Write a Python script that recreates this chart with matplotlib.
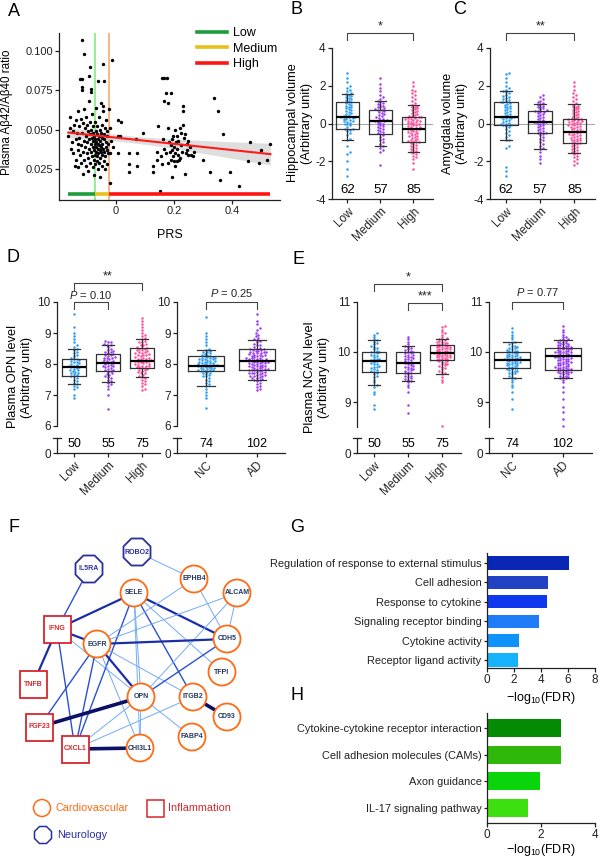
import numpy as np
import matplotlib
matplotlib.use('Agg')
import matplotlib.pyplot as plt
from matplotlib.patches import Circle, Rectangle, RegularPolygon
from matplotlib.lines import Line2D

plt.rcParams['font.family'] = ['Liberation Sans', 'DejaVu Sans']
plt.rcParams['axes.unicode_minus'] = False
plt.rcParams['mathtext.fontset'] = 'custom'
plt.rcParams['mathtext.rm'] = 'Liberation Sans'
plt.rcParams['mathtext.it'] = 'Liberation Sans:italic'

# ---------------- data ----------------
# panel A: PRS vs plasma Abeta42/40
prs = [-0.165, -0.16, -0.158, -0.155, -0.153, -0.15, -0.148, -0.145, -0.143, -0.14, -0.14, -0.138, -0.135, -0.133,
       -0.132, -0.13, -0.13, -0.128, -0.127, -0.125, -0.124, -0.122, -0.12, -0.12, -0.118, -0.118, -0.118, -0.117,
       -0.116, -0.115, -0.114, -0.113, -0.112, -0.11, -0.11, -0.109, -0.108, -0.107, -0.105, -0.104, -0.103, -0.102,
       -0.1, -0.1, -0.098, -0.097, -0.096, -0.095, -0.094, -0.093, -0.092, -0.091, -0.09, -0.09, -0.089, -0.088,
       -0.087, -0.086, -0.085, -0.085, -0.084, -0.083, -0.082, -0.081, -0.08, -0.08, -0.079, -0.078, -0.077, -0.076,
       -0.075, -0.075, -0.074, -0.073, -0.072, -0.072, -0.071, -0.07, -0.07, -0.069, -0.068, -0.068, -0.067, -0.066,
       -0.066, -0.065, -0.064, -0.063, -0.063, -0.062, -0.061, -0.061, -0.06, -0.06, -0.059, -0.058, -0.057, -0.057,
       -0.056, -0.055, -0.054, -0.053, -0.052, -0.052, -0.051, -0.05, -0.05, -0.049, -0.048, -0.047, -0.046, -0.045,
       -0.044, -0.044, -0.043, -0.042, -0.041, -0.04, -0.04, -0.039, -0.038, -0.037, -0.036, -0.035, -0.034, -0.033,
       -0.032, -0.031, -0.03, -0.029, -0.028, -0.024, -0.022, -0.021, -0.02, -0.019, -0.015, -0.012, 0.008, 0.008,
       0.008, 0.016, 0.012, 0.046, 0.046, 0.046, 0.069, 0.071, 0.072, 0.094,
       0.126, 0.129, 0.14, 0.14, 0.146, 0.152, 0.155, 0.158, 0.158, 0.163, 0.166, 0.166, 0.166, 0.171, 0.172, 0.175,
       0.178, 0.18, 0.18, 0.182, 0.185, 0.188, 0.189, 0.19, 0.192, 0.192, 0.192, 0.195, 0.197, 0.2, 0.2, 0.203,
       0.203, 0.205, 0.207, 0.209, 0.209, 0.21, 0.213, 0.215, 0.218, 0.221, 0.221, 0.223, 0.225, 0.228, 0.23, 0.232,
       0.232, 0.235, 0.238, 0.238, 0.24, 0.244, 0.246, 0.249, 0.249, 0.255, 0.26, 0.266, 0.27,
       0.3, 0.324, 0.338, 0.351, 0.359, 0.37, 0.393, 0.425, 0.456, 0.462, 0.494, 0.502, 0.533, 0.52]
ratio = [0.046, 0.051, 0.058, 0.038, 0.042, 0.035, 0.049, 0.053, 0.027, 0.044, 0.056, 0.031, 0.048, 0.041,
         0.062, 0.037, 0.026, 0.052, 0.045, 0.034, 0.082, 0.057, 0.040, 0.029, 0.107, 0.077, 0.075, 0.082,
         0.048, 0.036, 0.054, 0.022, 0.043, 0.098, 0.063, 0.031, 0.051, 0.039, 0.046, 0.027, 0.058, 0.035,
         0.042, 0.053, 0.049, 0.032, 0.024, 0.044, 0.068, 0.038, 0.084, 0.047, 0.090, 0.055, 0.029, 0.041,
         0.036, 0.050, 0.076, 0.074, 0.033, 0.045, 0.060, 0.039, 0.026, 0.048, 0.043, 0.052, 0.031, 0.037,
         0.046, 0.021, 0.041, 0.055, 0.034, 0.044, 0.028, 0.049, 0.039, 0.036, 0.064, 0.042, 0.030, 0.047,
         0.033, 0.052, 0.038, 0.025, 0.044, 0.041, 0.081, 0.035, 0.058, 0.046, 0.029, 0.040, 0.037, 0.050,
         0.032, 0.043, 0.020, 0.048, 0.036, 0.067, 0.039, 0.027, 0.045, 0.053, 0.034, 0.041, 0.038, 0.062,
         0.092, 0.065, 0.030, 0.047, 0.044, 0.081, 0.036, 0.025, 0.051, 0.033, 0.042, 0.039, 0.056, 0.046,
         0.028, 0.037, 0.049, 0.041, 0.035, 0.063, 0.051, 0.016, 0.035, 0.043, 0.094, 0.039, 0.056, 0.046,
         0.035, 0.055, 0.046, 0.035, 0.028, 0.023, 0.044, 0.035, 0.027, 0.048,
         0.027, 0.023, 0.031, 0.036, 0.052, 0.011, 0.033, 0.083, 0.028, 0.044, 0.068, 0.038, 0.083, 0.073, 0.035, 0.083,
         0.067, 0.051, 0.029, 0.042, 0.036, 0.031, 0.073, 0.040, 0.044, 0.037, 0.020, 0.033, 0.046, 0.039, 0.030, 0.050,
         0.027, 0.035, 0.042, 0.046, 0.030, 0.038, 0.034, 0.043, 0.031, 0.051, 0.032, 0.048, 0.040, 0.036, 0.053, 0.065,
         0.062, 0.045, 0.047, 0.022, 0.035, 0.037, 0.041, 0.043, 0.034, 0.039, 0.034, 0.033, 0.036,
         0.031, 0.023, 0.070, 0.062, 0.018, 0.047, 0.023, 0.014, 0.030, 0.042, 0.029, 0.037, 0.041, 0.031]
prs_cut_low = -0.072
prs_cut_high = -0.024
group_names = ['Low', 'Medium', 'High']

# panel B: hippocampal volume by PRS group
hip_low = [-2.8, -2.4, -2.0, -1.6, -1.5, -1.2, -0.9, -0.8, -0.6, -0.5, -0.4, -0.35, -0.3, -0.28, -0.2, -0.1, -0.05,
           0.0, 0.05, 0.1, 0.12, 0.15, 0.2, 0.22, 0.25, 0.3, 0.32, 0.34, 0.35, 0.36, 0.4, 0.45, 0.5, 0.55, 0.6, 0.65,
           0.7, 0.75, 0.8, 0.85, 0.9, 0.95, 1.0, 1.05, 1.1, 1.15, 1.2, 1.25, 1.3, 1.35, 1.4, 1.45, 1.5, 1.55, 1.6,
           1.7, 1.8, 1.9, 2.0, 2.2, 2.4, 2.7]
hip_med = [-2.2, -1.5, -1.4, -1.3, -1.2, -1.1, -1.0, -0.9, -0.8, -0.7, -0.6, -0.55, -0.5, -0.45, -0.4, -0.3, -0.25,
           -0.2, -0.15, -0.1, -0.05, 0.0, 0.05, 0.1, 0.12, 0.15, 0.18, 0.2, 0.25, 0.3, 0.35, 0.4, 0.45, 0.5, 0.55,
           0.6, 0.65, 0.7, 0.72, 0.75, 0.8, 0.85, 0.9, 0.95, 1.0, 1.05, 1.1, 1.15, 1.2, 1.3, 1.4, 1.5, 1.7, 1.9,
           2.1, 2.4, -0.35]
hip_high = [-2.4, -2.1, -1.9, -1.8, -1.7, -1.6, -1.55, -1.5, -1.45, -1.4, -1.35, -1.3, -1.25, -1.2, -1.15, -1.1,
            -1.05, -1.0, -0.97, -0.95, -0.9, -0.85, -0.8, -0.75, -0.7, -0.68, -0.65, -0.6, -0.55, -0.5, -0.48, -0.45,
            -0.4, -0.38, -0.35, -0.3, -0.28, -0.27, -0.25, -0.2, -0.18, -0.15, -0.1, -0.08, -0.05, 0.0, 0.02, 0.05,
            0.08, 0.1, 0.12, 0.15, 0.18, 0.2, 0.22, 0.25, 0.28, 0.3, 0.32, 0.35, 0.38, 0.4, 0.45, 0.5, 0.55, 0.6,
            0.65, 0.7, 0.75, 0.8, 0.85, 0.9, 0.95, 1.0, 1.1, 1.2, 1.3, 1.4, 1.5, 1.6, 1.7, 1.8, 2.0, 2.2, -1.0]
# box: (whisker low, q1, median, q3, whisker high)
hip_box = [(-0.9, -0.29, 0.35, 1.13, 1.55), (-1.2, -0.53, 0.15, 0.70, 1.2), (-1.49, -0.97, -0.27, 0.36, 0.98)]
hip_n = [62, 57, 85]

# panel C: amygdala volume by PRS group
amy_low = [-2.8, -2.5, -2.3, -1.3, -1.2, -0.9, -0.85, -0.7, -0.6, -0.5, -0.4, -0.3, -0.2, -0.15, -0.1, -0.08,
           -0.05, 0.0, 0.05, 0.1, 0.15, 0.2, 0.25, 0.28, 0.3, 0.33, 0.35, 0.37, 0.4, 0.45, 0.5, 0.55, 0.6, 0.65,
           0.7, 0.75, 0.8, 0.85, 0.9, 0.95, 1.0, 1.05, 1.1, 1.12, 1.15, 1.2, 1.25, 1.3, 1.35, 1.4, 1.45, 1.5, 1.6,
           1.65, 1.7, 1.8, 1.9, 2.0, 2.2, 2.4, 2.6, 2.7]
amy_med = [-2.1, -1.9, -1.7, -1.5, -1.35, -1.3, -1.2, -1.1, -1.0, -0.9, -0.8, -0.7, -0.6, -0.5, -0.48, -0.45,
           -0.4, -0.35, -0.3, -0.25, -0.2, -0.15, -0.1, -0.05, 0.0, 0.03, 0.06, 0.08, 0.1, 0.15, 0.2, 0.25, 0.3,
           0.35, 0.4, 0.45, 0.5, 0.55, 0.6, 0.62, 0.65, 0.68, 0.7, 0.75, 0.8, 0.85, 0.9, 0.95, 1.0, 1.05, 1.1,
           1.15, 1.2, 1.3, 1.4, 1.5, -0.55]
amy_high = [-2.2, -2.1, -2.0, -1.9, -1.8, -1.7, -1.6, -1.57, -1.5, -1.45, -1.4, -1.35, -1.3, -1.25, -1.2, -1.15,
            -1.1, -1.05, -1.04, -1.0, -0.95, -0.9, -0.85, -0.8, -0.78, -0.75, -0.7, -0.65, -0.6, -0.58, -0.55, -0.5,
            -0.47, -0.45, -0.43, -0.4, -0.38, -0.35, -0.3, -0.28, -0.25, -0.2, -0.18, -0.15, -0.1, -0.08, -0.05,
            0.0, 0.02, 0.05, 0.08, 0.1, 0.12, 0.15, 0.18, 0.2, 0.22, 0.25, 0.28, 0.3, 0.35, 0.4, 0.45, 0.5, 0.55,
            0.6, 0.65, 0.7, 0.75, 0.8, 0.85, 0.9, 0.95, 1.0, 1.1, 1.2, 1.3, 1.4, 1.5, 1.6, 1.8, 2.0, 2.2, -0.9, -0.6]
amy_box = [(-0.87, -0.09, 0.36, 1.15, 1.7), (-1.33, -0.48, 0.06, 0.66, 1.03), (-1.57, -1.04, -0.43, 0.23, 1.01)]
amy_n = [62, 57, 85]

# panel D: plasma OPN
opn_low = [6.9, 7.0, 7.2, 7.25, 7.3, 7.35, 7.4, 7.45, 7.5, 7.55, 7.6, 7.62, 7.65, 7.7, 7.72, 7.75, 7.8, 7.82,
           7.85, 7.87, 7.89, 7.9, 7.92, 7.95, 7.98, 8.0, 8.02, 8.05, 8.08, 8.1, 8.12, 8.15, 8.17, 8.2, 8.25, 8.3,
           8.35, 8.4, 8.45, 8.5, 8.55, 8.6, 8.7, 8.8, 8.9, 9.0, 9.2, 9.6, 7.68, 7.78]
opn_med = [6.55, 7.0, 7.2, 7.3, 7.35, 7.4, 7.45, 7.5, 7.55, 7.6, 7.65, 7.7, 7.75, 7.78, 7.8, 7.82, 7.85, 7.88,
           7.9, 7.92, 7.95, 7.98, 8.0, 8.02, 8.03, 8.05, 8.08, 8.1, 8.12, 8.15, 8.18, 8.2, 8.22, 8.25, 8.28, 8.3,
           8.32, 8.35, 8.38, 8.4, 8.45, 8.5, 8.55, 8.6, 8.62, 8.65, 8.7, 8.75, 8.72, 7.58, 7.68, 7.95, 8.1, 8.2, 8.42]
opn_high = [7.15, 7.2, 7.3, 7.35, 7.4, 7.45, 7.5, 7.55, 7.58, 7.6, 7.65, 7.7, 7.72, 7.75, 7.78, 7.8, 7.82, 7.85,
            7.87, 7.88, 7.9, 7.92, 7.95, 7.97, 8.0, 8.02, 8.05, 8.07, 8.1, 8.11, 8.12, 8.15, 8.17, 8.2, 8.22, 8.25,
            8.28, 8.3, 8.32, 8.35, 8.38, 8.4, 8.42, 8.45, 8.48, 8.5, 8.52, 8.53, 8.55, 8.6, 8.65, 8.7, 8.75, 8.8,
            8.85, 8.9, 8.95, 9.0, 9.1, 9.2, 9.3, 9.4, 9.5, 7.9, 8.0, 8.05, 8.1, 8.15, 8.3, 8.35, 8.6, 8.7, 7.95,
            8.2, 8.45]
opn_nc = [6.58, 6.9, 7.0, 7.1, 7.2, 7.3, 7.35, 7.4, 7.45, 7.5, 7.55, 7.6, 7.65, 7.7, 7.72, 7.75, 7.78, 7.8, 7.82,
          7.85, 7.87, 7.9, 7.92, 7.95, 7.97, 8.0, 8.02, 8.05, 8.07, 8.1, 8.12, 8.15, 8.17, 8.2, 8.22, 8.25, 8.28,
          8.3, 8.35, 8.4, 8.45, 8.5, 8.6, 8.7, 8.8, 8.9, 9.0, 9.52, 7.88, 7.93, 7.98, 8.03, 8.08, 8.13, 8.18, 7.68,
          7.62, 7.83, 8.26, 8.33, 8.38, 8.43, 7.76, 7.8, 7.86, 7.94, 8.0, 8.1, 8.15, 8.2, 7.9, 7.96, 8.04, 8.24]
opn_ad = [7.15, 7.2, 7.25, 7.3, 7.35, 7.4, 7.45, 7.5, 7.52, 7.55, 7.58, 7.6, 7.62, 7.65, 7.68, 7.7, 7.72, 7.75,
          7.78, 7.8, 7.81, 7.83, 7.85, 7.87, 7.9, 7.92, 7.95, 7.97, 8.0, 8.02, 8.04, 8.06, 8.08, 8.1, 8.12, 8.14,
          8.16, 8.18, 8.2, 8.22, 8.25, 8.28, 8.3, 8.32, 8.35, 8.38, 8.4, 8.42, 8.45, 8.48, 8.5, 8.52, 8.55, 8.6,
          8.65, 8.7, 8.75, 8.78, 8.8, 8.85, 8.9, 8.95, 9.0, 9.1, 9.15, 9.3, 9.4, 9.6, 7.5, 7.6, 7.7, 7.75, 7.8,
          7.85, 7.9, 7.95, 8.0, 8.05, 8.1, 8.15, 8.2, 8.25, 8.3, 8.35, 8.4, 8.45, 8.5, 7.65, 7.88, 7.93, 8.03,
          8.13, 8.27, 8.43, 7.55, 7.82, 8.07, 8.17, 8.37, 8.6, 7.72, 7.98]
opn_prs_box = [(7.36, 7.60, 7.89, 8.16, 8.49), (7.41, 7.76, 8.03, 8.32, 8.60), (7.58, 7.87, 8.11, 8.53, 8.81)]
opn_dx_box = [(7.29, 7.78, 7.95, 8.26, 8.44), (7.50, 7.81, 8.10, 8.49, 8.78)]
prs_n_plasma = [50, 55, 75]
dx_names = ['NC', 'AD']
dx_n = [74, 102]

# panel E: plasma NCAN
ncan_low = [8.87, 8.95, 9.15, 9.2, 9.3, 9.34, 9.4, 9.45, 9.5, 9.55, 9.58, 9.6, 9.62, 9.65, 9.68, 9.7, 9.72, 9.75,
            9.78, 9.8, 9.81, 9.83, 9.85, 9.87, 9.9, 9.92, 9.95, 9.97, 9.99, 10.0, 10.02, 10.05, 10.08, 10.1, 10.12,
            10.15, 10.18, 10.2, 10.23, 10.25, 10.3, 10.35, 10.38, 9.64, 9.76, 9.86, 9.93, 9.52, 9.7, 10.0]
ncan_med = [8.78, 8.95, 9.2, 9.3, 9.4, 9.42, 9.45, 9.48, 9.5, 9.52, 9.55, 9.57, 9.6, 9.62, 9.65, 9.68, 9.7, 9.72,
            9.75, 9.77, 9.79, 9.8, 9.82, 9.85, 9.87, 9.9, 9.92, 9.95, 9.97, 10.0, 10.02, 10.05, 10.08, 10.1, 10.12,
            10.15, 10.2, 10.25, 10.3, 9.58, 9.66, 9.74, 9.84, 9.9, 9.98, 9.46, 9.53, 9.63, 9.7, 9.78, 9.88, 9.94,
            10.0, 10.04, 9.35]
ncan_high = [8.52, 9.4, 9.45, 9.5, 9.55, 9.6, 9.65, 9.7, 9.72, 9.75, 9.78, 9.8, 9.82, 9.83, 9.85, 9.87, 9.88, 9.9,
             9.92, 9.93, 9.95, 9.96, 9.97, 9.98, 10.0, 10.02, 10.03, 10.05, 10.07, 10.08, 10.1, 10.12, 10.14, 10.15,
             10.17, 10.2, 10.22, 10.25, 10.27, 10.3, 10.35, 10.4, 10.45, 10.5, 10.52, 9.84, 9.86, 9.89, 9.91, 9.94,
             9.99, 10.01, 10.04, 10.06, 10.09, 10.11, 10.13, 10.16, 10.18, 10.24, 9.58, 9.68, 9.76, 9.81, 9.9,
             9.95, 10.0, 10.05, 10.1, 10.2, 9.62, 9.73, 9.97, 10.28, 10.38]
ncan_nc = [8.87, 9.05, 9.2, 9.3, 9.35, 9.4, 9.45, 9.48, 9.5, 9.55, 9.58, 9.6, 9.62, 9.65, 9.67, 9.7, 9.72, 9.74,
           9.76, 9.78, 9.8, 9.82, 9.84, 9.85, 9.86, 9.88, 9.9, 9.92, 9.94, 9.96, 9.98, 10.0, 10.02, 10.04, 10.06,
           10.08, 10.1, 10.12, 10.15, 10.18, 10.2, 10.25, 10.3, 10.35, 10.4, 10.48, 9.64, 9.68, 9.73, 9.77, 9.81,
           9.83, 9.87, 9.89, 9.91, 9.95, 9.99, 10.01, 9.52, 9.57, 9.62, 9.7, 9.75, 9.8, 9.85, 9.9, 9.93, 9.97,
           10.03, 10.07, 9.66, 9.79, 9.87, 10.11]
ncan_ad = [8.52, 8.65, 8.8, 8.9, 9.05, 9.2, 9.3, 9.4, 9.45, 9.48, 9.5, 9.52, 9.55, 9.58, 9.6, 9.62, 9.64, 9.66,
           9.68, 9.7, 9.72, 9.74, 9.76, 9.78, 9.8, 9.82, 9.84, 9.86, 9.88, 9.9, 9.91, 9.92, 9.94, 9.96, 9.98, 10.0,
           10.02, 10.04, 10.06, 10.07, 10.08, 10.1, 10.12, 10.14, 10.16, 10.18, 10.2, 10.22, 10.24, 10.26, 10.3,
           10.35, 10.4, 10.45, 10.52, 9.5, 9.55, 9.6, 9.65, 9.7, 9.75, 9.8, 9.85, 9.9, 9.95, 10.0, 10.05, 10.1,
           10.15, 10.2, 9.57, 9.63, 9.67, 9.73, 9.79, 9.83, 9.87, 9.93, 9.97, 10.03, 10.09, 10.13, 10.25, 9.53,
           9.61, 9.69, 9.77, 9.89, 9.99, 10.01, 10.11, 10.17, 10.3, 9.47, 9.59, 9.71, 9.81, 9.95, 10.05, 9.66,
           9.88, 10.0]
ncan_prs_box = [(9.34, 9.60, 9.81, 9.99, 10.23), (9.42, 9.57, 9.79, 10.0, 10.12), (9.55, 9.83, 9.97, 10.14, 10.26)]
ncan_dx_box = [(9.48, 9.67, 9.84, 10.0, 10.19), (9.48, 9.64, 9.91, 10.07, 10.24)]

# panel F: network
node_kind = {'ROBO2': 'neuro', 'IL5RA': 'neuro', 'SELE': 'cardio', 'EPHB4': 'cardio', 'ALCAM': 'cardio',
             'IFNG': 'inflam', 'EGFR': 'cardio', 'CDH5': 'cardio', 'TFPI': 'cardio', 'TNFB': 'inflam',
             'OPN': 'cardio', 'ITGB2': 'cardio', 'CD93': 'cardio', 'FGF23': 'inflam', 'CXCL1': 'inflam',
             'CHI3L1': 'cardio', 'FABP4': 'cardio'}
# layout of the drawing (x right, y down)
node_xy = {'ROBO2': (137, 552), 'IL5RA': (89, 569), 'SELE': (134, 593), 'EPHB4': (194, 579), 'ALCAM': (237, 593),
           'IFNG': (57, 629), 'EGFR': (97, 644), 'CDH5': (227, 639), 'TFPI': (222, 672), 'TNFB': (33, 684),
           'OPN': (141, 697), 'ITGB2': (193, 697), 'CD93': (227, 717), 'FGF23': (39, 727), 'CXCL1': (75, 749),
           'CHI3L1': (140, 748), 'FABP4': (192, 737)}
edges = [('ROBO2', 'EPHB4', 1), ('IL5RA', 'IFNG', 2), ('IFNG', 'SELE', 3), ('IFNG', 'EGFR', 3),
         ('IFNG', 'TNFB', 3), ('IFNG', 'CXCL1', 2), ('IFNG', 'OPN', 1), ('SELE', 'CDH5', 3), ('SELE', 'ITGB2', 2),
         ('SELE', 'TFPI', 1), ('SELE', 'OPN', 1), ('SELE', 'CXCL1', 2), ('SELE', 'CHI3L1', 1), ('EPHB4', 'EGFR', 1),
         ('EPHB4', 'CDH5', 1), ('ALCAM', 'EGFR', 1), ('ALCAM', 'OPN', 1), ('ALCAM', 'CDH5', 1), ('EGFR', 'CDH5', 3),
         ('EGFR', 'OPN', 3), ('EGFR', 'ITGB2', 1), ('EGFR', 'FGF23', 2), ('EGFR', 'CXCL1', 2), ('EGFR', 'CHI3L1', 1),
         ('CDH5', 'OPN', 2), ('OPN', 'FGF23', 4), ('OPN', 'CXCL1', 1), ('OPN', 'FABP4', 1), ('OPN', 'CHI3L1', 1),
         ('ITGB2', 'CD93', 4), ('ITGB2', 'CXCL1', 1), ('CXCL1', 'CHI3L1', 4)]

# panel G: GO terms
go_terms = ['Regulation of response to external stimulus', 'Cell adhesion', 'Response to cytokine',
            'Signaling receptor binding', 'Cytokine activity', 'Receptor ligand activity']
go_fdr = [6.07, 4.5, 4.45, 3.85, 2.35, 2.3]
# panel H: KEGG pathways
kegg_terms = ['Cytokine-cytokine receptor interaction', 'Cell adhesion molecules (CAMs)', 'Axon guidance',
              'IL-17 signaling pathway']
kegg_fdr = [2.74, 2.74, 1.96, 1.5]

# ---------------- styles ----------------
W, H = 600, 860
grp_cols = ['#2a9df4', '#9b3cf0', '#ff4f9d']
dx_cols = ['#2a9df4', '#9b3cf0']
go_cols = ['#0a26b4', '#2141c4', '#0f38ee', '#1f7cf8', '#0e93fb', '#16b2fb']
kegg_cols = ['#048a04', '#2fb80a', '#0ad40a', '#3ce010']
edge_style = {1: ('#72abf6', 0.7), 2: ('#2b4fd6', 1.0), 3: ('#1a2ea6', 1.6), 4: ('#0b1068', 2.6)}
LC = '#222222'

fig = plt.figure(figsize=(6, 8.6), dpi=100)


def rect(l, t, r, b):
    return [l / W, 1 - b / H, (r - l) / W, (b - t) / H]


def ftext(x, y, s, **kw):
    fig.text(x / W, 1 - y / H, s, **kw)


def style_ax(ax, fs=8.5):
    for s in ['top', 'right']:
        ax.spines[s].set_visible(False)
    for s in ['left', 'bottom']:
        ax.spines[s].set_color(LC)
        ax.spines[s].set_linewidth(0.9)
    ax.tick_params(colors=LC, width=0.9, length=3, labelsize=fs, pad=1.5)


def swarm(vals, ppu_y, max_off, dot=2.4):
    y = np.asarray(vals, float) * ppu_y
    order = np.argsort(y)
    step = dot * 0.55
    cands = [0.0]
    k = 1
    while k * step <= max_off:
        cands += [k * step, -k * step]
        k += 1
    cands = np.array(cands)
    px, py = [], []
    off = np.zeros(len(y))
    for i in order:
        c = 0.0
        if px:
            ax_ = np.array(px)
            ay_ = np.array(py)
            near = np.abs(ay_ - y[i]) < dot
            if near.any():
                d = np.sqrt((cands[:, None] - ax_[near][None, :]) ** 2
                            + (y[i] - ay_[near])[None, :] ** 2).min(axis=1)
                ok = np.where(d >= dot)[0]
                c = cands[ok[0]] if len(ok) else cands[np.argmax(d)]
        off[i] = c
        px.append(c)
        py.append(y[i])
    return off


def strips(ax, groups, boxes, cols, width=0.7):
    pos = ax.get_position()
    x0, x1 = ax.get_xlim()
    y0, y1 = ax.get_ylim()
    ppu_x = pos.width * W / (x1 - x0)
    ppu_y = pos.height * H / (y1 - y0)
    for i, (vals, col) in enumerate(zip(groups, cols)):
        off = swarm(vals, ppu_y, 0.45 * width * ppu_x)
        ax.scatter(i + off / ppu_x, vals, s=3.2, color=col, lw=0, zorder=2, clip_on=False)
    stats = [dict(whislo=b[0], q1=b[1], med=b[2], q3=b[3], whishi=b[4], fliers=[]) for b in boxes]
    lp = dict(color='#333333', lw=0.9)
    ax.bxp(stats, positions=range(len(boxes)), widths=width, capwidths=width * 0.5, showfliers=False,
           boxprops=lp, whiskerprops=lp, capprops=lp, medianprops=dict(color='black', lw=1.6),
           manage_ticks=False, zorder=3)


def bracket(ax, x0, x1, y, drop, text, ty, fs=9):
    ax.plot([x0, x0, x1, x1], [y - drop, y, y, y - drop], color='#444444', lw=0.8, clip_on=False)
    ax.text((x0 + x1) / 2, ty, text, ha='center', va='center', fontsize=fs, color=LC)


# ---------------- panel A ----------------
axA = fig.add_axes(rect(59, 33, 280, 200))
style_ax(axA, fs=8)
axA.set_xlim(-0.197, 0.566)
axA.set_ylim(0.0053, 0.1114)
x = np.array(prs)
y = np.array(ratio)
coef = np.polyfit(x, y, 1)
xs = np.linspace(x.min(), x.max(), 100)
fit = np.polyval(coef, xs)
resid = y - np.polyval(coef, x)
s_err = np.sqrt(np.sum(resid ** 2) / (len(x) - 2))
se = s_err * np.sqrt(1 / len(x) + (xs - x.mean()) ** 2 / np.sum((x - x.mean()) ** 2))
axA.axvline(prs_cut_low, color='#7cf07c', lw=1.2, zorder=1)
axA.axvline(prs_cut_high, color='#f7a96e', lw=1.2, zorder=1)
axA.scatter(x, y, s=6, color='black', lw=0, zorder=3)
axA.fill_between(xs, fit - 1.97 * se, fit + 1.97 * se, color='#c4c4c4', alpha=0.55, lw=0, zorder=2)
axA.plot(xs, fit, color='#ff1a1a', lw=1.5, zorder=4)
seg_y = 0.009
seg_cols = ['#1d9e3e', '#e6c21a', '#ff1414']
bounds = [x.min(), prs_cut_low, prs_cut_high, x.max()]
for i in range(3):
    axA.plot([bounds[i], bounds[i + 1]], [seg_y, seg_y], color=seg_cols[i], lw=2.6, solid_capstyle='butt',
             zorder=4)
axA.set_xticks([0, 0.2, 0.4])
axA.set_xticklabels(['0', '0.2', '0.4'])
axA.set_yticks([0.025, 0.05, 0.075, 0.1])
axA.set_yticklabels(['0.025', '0.050', '0.075', '0.100'])
handles = [Line2D([], [], color=c, lw=2.6) for c in seg_cols]
axA.legend(handles, group_names, loc='upper left', bbox_to_anchor=(197 / W, 1 - 27 / H),
           bbox_transform=fig.transFigure, frameon=False, fontsize=9, handlelength=2.4,
           handletextpad=0.5, labelspacing=0.3, borderpad=0, borderaxespad=0)
ftext(7, 112, 'Plasma A\u03b242/A\u03b240 ratio', rotation=90, ha='center', va='center', fontsize=8.4)
ftext(170, 235, 'PRS', ha='center', va='center', fontsize=9)


# ---------------- panels B, C ----------------
def vol_panel(l, r, groups, boxes, ns, stars, ylab, lab_x):
    ax = fig.add_axes(rect(l, 48, r, 199))
    style_ax(ax)
    ax.set_xlim(-0.47, 2.6)
    ax.set_ylim(-4, 4)
    ax.axhline(0, color='#aaaaaa', lw=0.8, zorder=1)
    strips(ax, groups, boxes, grp_cols)
    ax.set_yticks([-4, -2, 0, 2, 4])
    ax.set_xticks(range(3))
    ax.set_xticklabels(group_names, rotation=45, ha='right', rotation_mode='anchor', fontsize=8.5)
    for i, n in enumerate(ns):
        ax.text(i, -3.5, str(n), ha='center', va='center', fontsize=9.5)
    bracket(ax, 0, 2, 4.8, 0.4, stars, 5.15)
    ftext(lab_x, 123, ylab, rotation=90, ha='center', va='center', fontsize=9.2, multialignment='center')
    return ax


vol_panel(332, 433, [hip_low, hip_med, hip_high], hip_box, hip_n, '*',
          'Hippocampal volume\n(Arbitrary unit)', 300)
vol_panel(490, 595, [amy_low, amy_med, amy_high], amy_box, amy_n, '**',
          'Amygdala volume\n(Arbitrary unit)', 455)


# ---------------- panels D, E ----------------
def split_panel(l, r, bot, xlim, ylim, yticks, cats, groups, boxes, cols, ns):
    axt = fig.add_axes(rect(l, 302, r, bot))
    style_ax(axt)
    axt.spines['bottom'].set_visible(False)
    axt.set_xlim(*xlim)
    axt.set_ylim(*ylim)
    axt.set_xticks([])
    axt.set_yticks(yticks)
    strips(axt, groups, boxes, cols)
    axb = fig.add_axes(rect(l, 438, r, 453))
    style_ax(axb)
    axb.set_xlim(*xlim)
    axb.set_ylim(0, 1)
    axb.set_yticks([0])
    axb.set_xticks(range(len(cats)))
    axb.set_xticklabels(cats, rotation=45, ha='right', rotation_mode='anchor', fontsize=8.5)
    axb.plot([-0.035, 0.035], [1, 1], transform=axb.transAxes, color=LC, lw=0.9, clip_on=False)
    for i, n in enumerate(ns):
        axb.text(i, 0.6, str(n), ha='center', va='center', fontsize=9)
    return axt


axD1 = split_panel(57, 160, 426, (-0.5, 2.53), (6, 10), [6, 7, 8, 9, 10], group_names,
                   [opn_low, opn_med, opn_high], opn_prs_box, grp_cols, prs_n_plasma)
bracket(axD1, 0, 2, 10.61, 0.22, '**', 10.83)
bracket(axD1, 0, 1, 10.0, 0.22, r'$\it{P}$ = 0.10', 10.21, fs=8)
axD2 = split_panel(177, 285, 426, (-0.57, 1.55), (6, 10), [6, 7, 8, 9, 10], dx_names,
                   [opn_nc, opn_ad], opn_dx_box, dx_cols, dx_n)
bracket(axD2, 0, 1, 10.0, 0.22, r'$\it{P}$ = 0.25', 10.3, fs=8)
ftext(20, 377, 'Plasma OPN level\n(Arbitrary unit)', rotation=90, ha='center', va='center', fontsize=9.2,
      multialignment='center')

axE1 = split_panel(357, 461, 427, (-0.5, 2.56), (8.5, 11), [9, 10, 11], group_names,
                   [ncan_low, ncan_med, ncan_high], ncan_prs_box, grp_cols, prs_n_plasma)
bracket(axE1, 0, 2, 11.36, 0.14, '*', 11.5)
bracket(axE1, 1, 2, 10.98, 0.14, '***', 11.11)
axE2 = split_panel(489, 592, 427, (-0.45, 1.57), (8.5, 11), [9, 10, 11], dx_names,
                   [ncan_nc, ncan_ad], ncan_dx_box, dx_cols, dx_n)
bracket(axE2, 0, 1, 11.0, 0.14, r'$\it{P}$ = 0.77', 11.2, fs=8)
ftext(317, 377, 'Plasma NCAN level\n(Arbitrary unit)', rotation=90, ha='center', va='center', fontsize=9.2,
      multialignment='center')

# ---------------- panel F: network ----------------
axF = fig.add_axes(rect(0, 520, 300, 860))
axF.set_xlim(0, 300)
axF.set_ylim(860, 520)
axF.axis('off')
kind_col = {'cardio': '#ff6a13', 'inflam': '#d8262c', 'neuro': '#2b2f9e'}
text_col = {'cardio': '#22375e', 'inflam': '#d8262c', 'neuro': '#2b2f9e'}
for a, b, w in edges:
    c, lw = edge_style[w]
    (xa, ya), (xb, yb) = node_xy[a], node_xy[b]
    axF.plot([xa, xb], [ya, yb], color=c, lw=lw, zorder=1, solid_capstyle='round')


def shape(kind, xy, size, lw=1.3):
    col = kind_col[kind]
    if kind == 'cardio':
        p = Circle(xy, size / 2, fc='white', ec=col, lw=lw, zorder=2)
    elif kind == 'inflam':
        p = Rectangle((xy[0] - size / 2, xy[1] - size / 2), size, size, fc='white', ec=col, lw=lw, zorder=2)
    else:
        p = RegularPolygon(xy, 8, radius=size / 2 / np.cos(np.pi / 8), orientation=np.pi / 8, fc='white',
                           ec=col, lw=lw, zorder=2)
    axF.add_patch(p)


for name, kind in node_kind.items():
    xy = node_xy[name]
    shape(kind, xy, 27)
    axF.text(xy[0], xy[1], name, ha='center', va='center', fontsize=5, fontweight='bold',
             color=text_col[kind], zorder=3)

shape('cardio', (42, 808), 17, lw=1.1)
shape('inflam', (155, 808), 17, lw=1.1)
shape('neuro', (43, 835), 17, lw=1.1)
axF.text(56, 808, 'Cardiovascular', ha='left', va='center', fontsize=7.8, color='#ff6a13')
axF.text(168, 808, 'Inflammation', ha='left', va='center', fontsize=7.8, color='#d8262c')
axF.text(57, 835, 'Neurology', ha='left', va='center', fontsize=7.8, color='#2b2f9e')


# ---------------- panels G, H ----------------
def bar_panel(t, b, terms, vals, cols, xmax, xticks, first, last, xlab_y):
    ax = fig.add_axes(rect(487, t, 595, b))
    style_ax(ax)
    n = len(terms)
    ax.barh(range(n), vals, height=0.68, color=cols, zorder=2)
    sp = (last - first) / (n - 1)
    ax.set_ylim(n - 1 + (b - last) / sp, -(first - t) / sp)
    ax.set_xlim(0, xmax)
    ax.set_xticks(xticks)
    ax.set_yticks(range(n))
    ax.set_yticklabels(terms, fontsize=7.9)
    ax.tick_params(axis='y', length=2.5)
    ftext(541, xlab_y, '\u2212log$_{10}$(FDR)', ha='center', va='center', fontsize=9)
    return ax


bar_panel(553, 668, go_terms, go_fdr, go_cols, 8, [0, 2, 4, 6, 8], 563, 660, 698)
bar_panel(713, 823, kegg_terms, kegg_fdr, kegg_cols, 4, [0, 2, 4], 728, 808, 850)

# ---------------- panel letters ----------------
for lab, px_, py_ in [('A', 8, 12), ('B', 290, 9), ('C', 453, 9), ('D', 6, 258), ('E', 292, 259),
                      ('F', 8, 528), ('G', 290, 528), ('H', 290, 695)]:
    ftext(px_, py_, lab, ha='left', va='center', fontsize=13)

fig.savefig('out.png', dpi=100)
